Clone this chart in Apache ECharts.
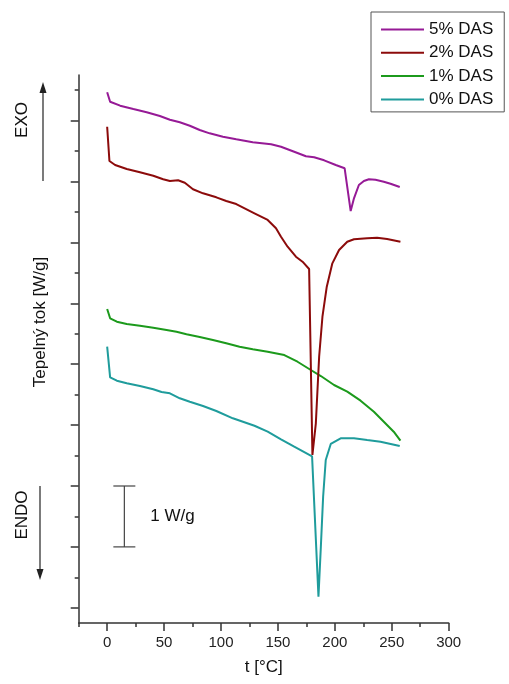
<!DOCTYPE html>
<html><head><meta charset="utf-8">
<script src="https://cdn.jsdelivr.net/npm/echarts@6/dist/echarts.min.js"></script>
<style>html,body{margin:0;padding:0;background:#fff}#c{width:509px;height:684px}</style>
</head><body><div id="c"></div>
<script>
var FONT = '"Liberation Sans", Arial, sans-serif';
var seriesNames = ['5% DAS', '2% DAS', '1% DAS', '0% DAS'];
var xTickLabels = [0, 50, 100, 150, 200, 250, 300];
var xMinorTicks = [-25, 25, 75, 125, 175, 225, 275];
var yMajorTicks = [0.25, 1.25, 2.25, 3.25, 4.25, 5.25, 6.25, 7.25, 8.25];
var yMinorTicks = [0.75, 1.75, 2.75, 3.75, 4.75, 5.75, 6.75, 7.75, 8.75];

var das5T = [0, 2.6, 11.4, 23.0, 34.7, 46.3, 55.1, 63.8, 72.6, 81.3, 90.0, 101.7, 113.4, 127.9, 144.0, 152.7, 164.3, 174.6, 181.8, 190.6, 200.8, 208.6, 213.9, 216.8, 221.1, 225.5, 229.9, 235.7, 243.0, 248.9, 257.0];
var das5Q = [8.716, 8.561, 8.496, 8.441, 8.387, 8.326, 8.266, 8.223, 8.167, 8.097, 8.042, 7.987, 7.944, 7.895, 7.862, 7.822, 7.740, 7.665, 7.648, 7.599, 7.522, 7.468, 6.766, 6.975, 7.193, 7.259, 7.287, 7.280, 7.248, 7.215, 7.160];

var das2T = [0, 2.0, 7.0, 17.2, 28.8, 40.5, 49.2, 55.1, 62.3, 68.2, 75.4, 84.2, 95.9, 104.6, 113.4, 129.4, 141.0, 148.3, 152.7, 158.5, 165.8, 171.6, 177.4, 180.3, 183.3, 186.2, 189.1, 192.9, 197.8, 203.7, 210.9, 216.8, 228.4, 237.1, 245.9, 257.6];
var das2Q = [8.151, 7.587, 7.522, 7.456, 7.402, 7.346, 7.287, 7.259, 7.271, 7.231, 7.123, 7.057, 6.991, 6.931, 6.881, 6.729, 6.619, 6.482, 6.344, 6.180, 6.016, 5.934, 5.814, 2.759, 3.280, 4.373, 5.030, 5.523, 5.907, 6.126, 6.262, 6.302, 6.318, 6.328, 6.306, 6.262];

var das1T = [0, 2.6, 8.5, 17.2, 28.8, 40.5, 52.2, 60.9, 69.7, 81.3, 92.9, 104.6, 116.3, 127.9, 141.0, 155.6, 167.2, 178.9, 187.7, 199.3, 210.9, 222.6, 234.3, 243.0, 251.7, 257.6];
var das1Q = [5.157, 5.004, 4.948, 4.910, 4.883, 4.850, 4.812, 4.784, 4.741, 4.697, 4.648, 4.594, 4.538, 4.495, 4.456, 4.401, 4.291, 4.155, 4.056, 3.909, 3.799, 3.651, 3.470, 3.306, 3.142, 2.994];

var das0T = [0, 2.6, 8.5, 17.2, 28.8, 40.5, 47.8, 55.1, 63.8, 72.6, 84.2, 95.9, 110.4, 129.4, 141.0, 152.7, 164.3, 180.0, 185.6, 187.7, 189.7, 192.0, 196.4, 205.1, 216.8, 228.4, 240.1, 257.0];
var das0Q = [4.538, 4.035, 3.979, 3.937, 3.892, 3.838, 3.794, 3.772, 3.690, 3.634, 3.564, 3.482, 3.362, 3.240, 3.142, 3.017, 2.895, 2.735, 0.432, 1.253, 2.074, 2.677, 2.940, 3.033, 3.033, 3.005, 2.978, 2.907];

var scaleBarT = 15.1;
var scaleBarQ = [1.25, 2.25];

function zip(a, b) { return a.map(function (v, i) { return [v, b[i]]; }); }

var colors = { '5% DAS': '#961a96', '2% DAS': '#8c0b0b', '1% DAS': '#1c9a1c', '0% DAS': '#1f9c9c' };
var seriesData = { '5% DAS': zip(das5T, das5Q), '2% DAS': zip(das2T, das2Q), '1% DAS': zip(das1T, das1Q), '0% DAS': zip(das0T, das0Q) };
var drawOrder = ['0% DAS', '1% DAS', '2% DAS', '5% DAS'];

var chart = echarts.init(document.getElementById('c'), null, { renderer: 'canvas' });
var axisColor = '#333';
var option = {
  animation: false,
  backgroundColor: '#fff',
  textStyle: { fontFamily: FONT },
  grid: { left: 78.7, right: 60.3, top: 75, bottom: 61 },
  legend: {
    data: seriesNames, orient: 'vertical', left: 371, top: 12,
    borderColor: '#555', borderWidth: 1, padding: [8, 11, 3, 10],
    icon: 'rect', itemWidth: 43, itemHeight: 2, itemGap: 4.3,
    textStyle: { fontSize: 17, lineHeight: 19, color: '#111', fontFamily: FONT }
  },
  xAxis: [{
    type: 'value', min: -25, max: 300,
    name: 't [°C]', nameLocation: 'middle', nameGap: 36,
    nameTextStyle: { fontSize: 17, color: '#111', fontFamily: FONT },
    axisLine: { show: true, onZero: false, lineStyle: { color: axisColor, width: 1.5 } },
    axisTick: { show: true, length: 8, customValues: xTickLabels, lineStyle: { color: axisColor, width: 1.5 } },
    axisLabel: { show: true, customValues: xTickLabels, fontSize: 15, color: '#222', margin: 12, fontFamily: FONT },
    splitLine: { show: false }
  }, {
    type: 'value', min: -25, max: 300, position: 'bottom',
    axisLine: { show: false, onZero: false },
    axisTick: { show: true, length: 4, customValues: xMinorTicks, lineStyle: { color: axisColor, width: 1.5 } },
    axisLabel: { show: false }, splitLine: { show: false }
  }],
  yAxis: [{
    type: 'value', min: 0, max: 9,
    axisLine: { show: true, onZero: false, lineStyle: { color: axisColor, width: 1.5 } },
    axisTick: { show: true, length: 8, customValues: yMajorTicks, lineStyle: { color: axisColor, width: 1.5 } },
    axisLabel: { show: false }, splitLine: { show: false }
  }, {
    type: 'value', min: 0, max: 9, position: 'left',
    axisLine: { show: false, onZero: false },
    axisTick: { show: true, length: 4, customValues: yMinorTicks, lineStyle: { color: axisColor, width: 1.5 } },
    axisLabel: { show: false }, splitLine: { show: false }
  }],
  series: drawOrder.map(function (n) {
    return {
      name: n, type: 'line', data: seriesData[n], xAxisIndex: 0, yAxisIndex: 0,
      symbol: 'none', showSymbol: false, smooth: false,
      lineStyle: { color: colors[n], width: 2 }, itemStyle: { color: colors[n] }
    };
  })
};
chart.setOption(option);

var p1 = chart.convertToPixel({ xAxisIndex: 0, yAxisIndex: 0 }, [scaleBarT, scaleBarQ[0]]);
var p2 = chart.convertToPixel({ xAxisIndex: 0, yAxisIndex: 0 }, [scaleBarT, scaleBarQ[1]]);
var barStyle = { stroke: '#444', lineWidth: 1.2 };
var txt = { fill: '#111', fontSize: 17, fontFamily: FONT };
chart.setOption({
  graphic: [
    { type: 'line', shape: { x1: p1[0], y1: p1[1], x2: p2[0], y2: p2[1] }, style: barStyle },
    { type: 'line', shape: { x1: p1[0] - 11, y1: p1[1], x2: p1[0] + 11, y2: p1[1] }, style: barStyle },
    { type: 'line', shape: { x1: p2[0] - 11, y1: p2[1], x2: p2[0] + 11, y2: p2[1] }, style: barStyle },
    { type: 'text', x: p1[0] + 26, y: (p1[1] + p2[1]) / 2, style: Object.assign({ text: '1 W/g', align: 'left', verticalAlign: 'middle' }, txt) },
    { type: 'text', x: 22, y: 120, rotation: Math.PI / 2, style: Object.assign({ text: 'EXO', align: 'center', verticalAlign: 'middle' }, txt) },
    { type: 'line', shape: { x1: 43, y1: 181, x2: 43, y2: 90 }, style: { stroke: '#222', lineWidth: 1.2 } },
    { type: 'polygon', shape: { points: [[43, 82], [39.5, 93], [46.5, 93]] }, style: { fill: '#222' } },
    { type: 'text', x: 40, y: 322, rotation: Math.PI / 2, style: Object.assign({ text: 'Tepelný tok [W/g]', align: 'center', verticalAlign: 'middle' }, txt) },
    { type: 'text', x: 22, y: 515, rotation: Math.PI / 2, style: Object.assign({ text: 'ENDO', align: 'center', verticalAlign: 'middle' }, txt) },
    { type: 'line', shape: { x1: 40, y1: 486, x2: 40, y2: 572 }, style: { stroke: '#222', lineWidth: 1.2 } },
    { type: 'polygon', shape: { points: [[40, 580], [36.5, 569], [43.5, 569]] }, style: { fill: '#222' } }
  ]
});
</script>
</body></html>
